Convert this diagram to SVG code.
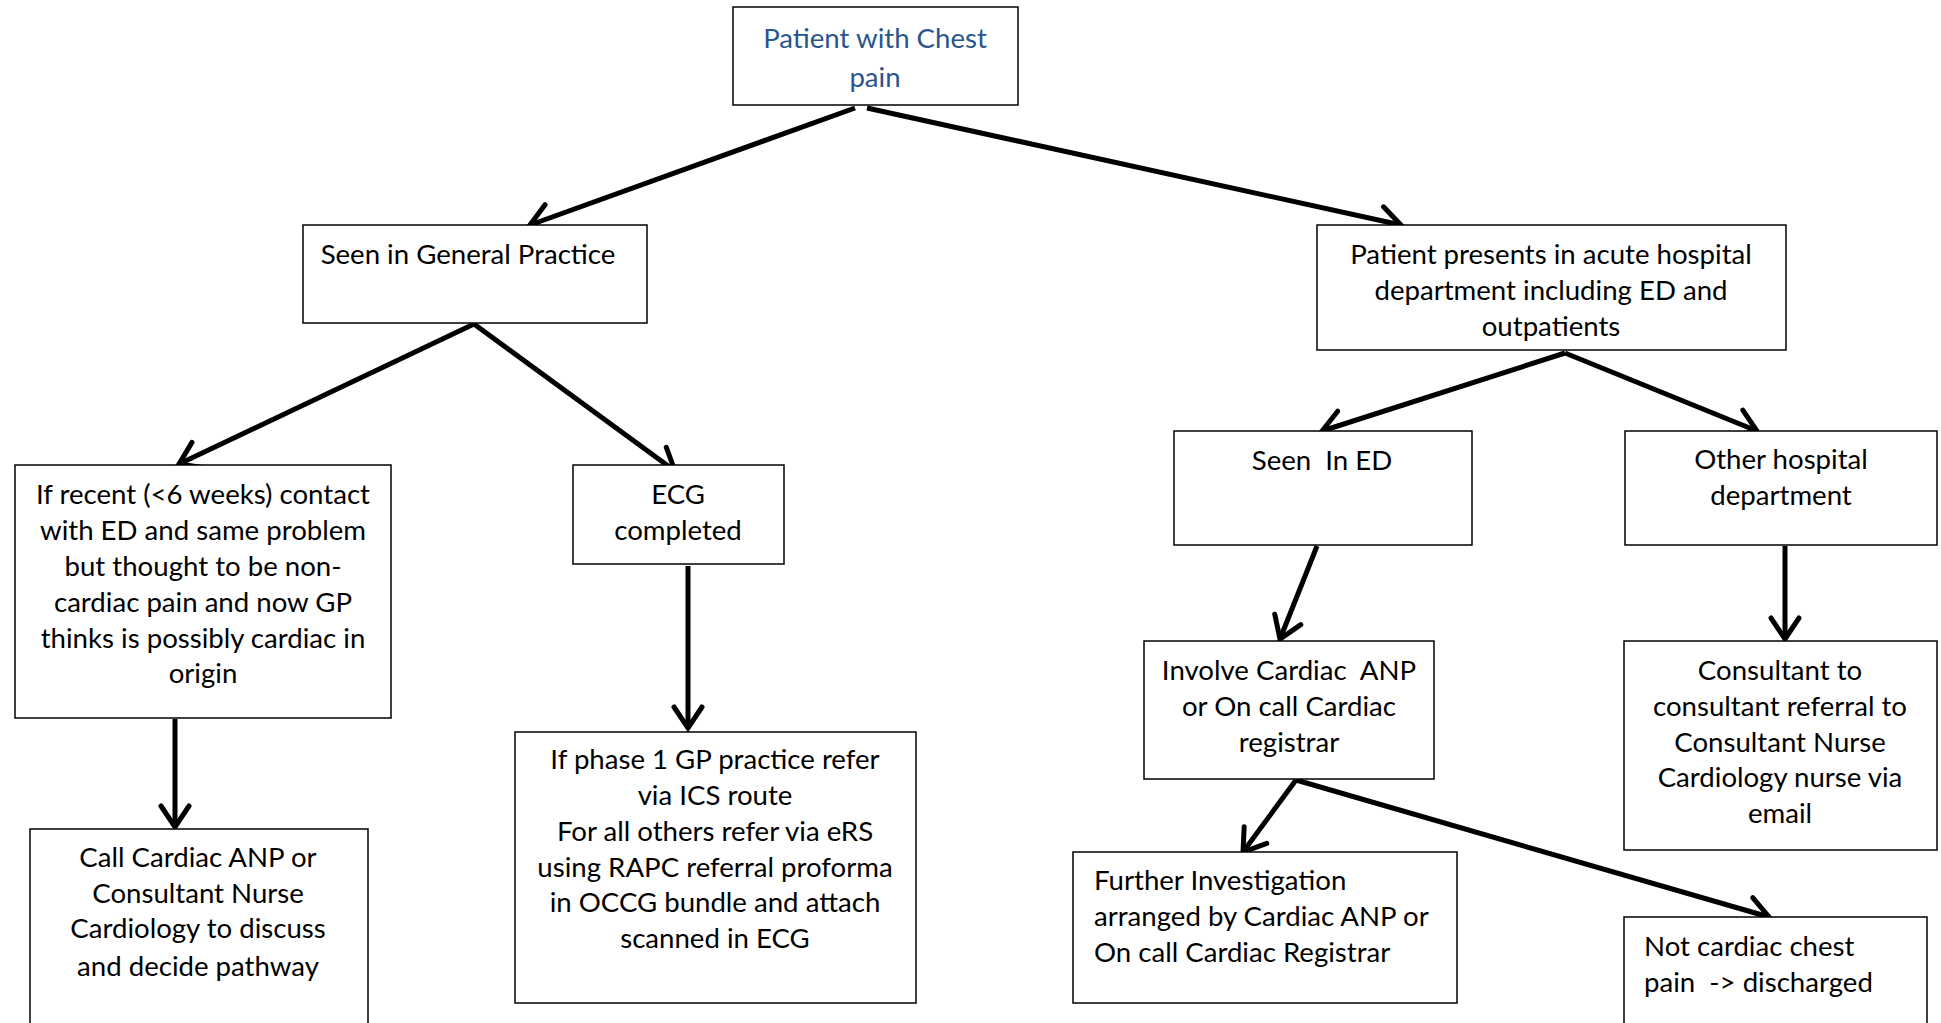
<svg xmlns="http://www.w3.org/2000/svg" width="1941" height="1023" viewBox="0 0 1941 1023">
<style>
.box{fill:#fff;stroke:#000;stroke-width:1.5}
.t{font-family:Lato,"Open Sans","Liberation Sans",sans-serif;font-size:27.6px;fill:#000;text-anchor:middle;white-space:pre}
.tl{text-anchor:start}
.blue{fill:#2A558C}
.c{stroke:#000;stroke-width:5;fill:none;marker-end:url(#ah)}
</style>
<defs>
<marker id="ah" markerUnits="userSpaceOnUse" markerWidth="50" markerHeight="50" viewBox="-35 -25 50 50" refX="0" refY="0" orient="auto">
<path d="M-21,-14 L0,0 L-21,14" fill="none" stroke="#000" stroke-width="5" stroke-linecap="round" stroke-linejoin="miter"/>
</marker>
</defs>
<g id="connectors">
<line class="c" x1="855" y1="108" x2="530" y2="225"/>
<line class="c" x1="867" y1="108" x2="1401" y2="225"/>
<line class="c" x1="474" y1="324" x2="179" y2="464"/>
<line class="c" x1="474" y1="324" x2="675" y2="471"/>
<line class="c" x1="175" y1="719" x2="175" y2="827"/>
<line class="c" x1="688" y1="566" x2="688" y2="728"/>
<line class="c" x1="1565" y1="353" x2="1322" y2="431"/>
<line class="c" x1="1565" y1="353" x2="1757" y2="431"/>
<line class="c" x1="1317" y1="546" x2="1280" y2="639"/>
<line class="c" x1="1785" y1="546" x2="1785" y2="639"/>
<line class="c" x1="1296" y1="780" x2="1243" y2="852"/>
<line class="c" x1="1296" y1="780" x2="1769" y2="917"/>
</g>
<g id="n-start">
<rect class="box" x="733" y="7" width="285" height="98"/>
<text class="t blue" x="875" y="48">Patient with Chest</text>
<text class="t blue" x="875" y="87">pain</text>
</g>
<g id="n-gp">
<rect class="box" x="303" y="225" width="344" height="98"/>
<text class="t" x="468" y="264">Seen in General Practice</text>
</g>
<g id="n-hospital">
<rect class="box" x="1317" y="225" width="469" height="125"/>
<text class="t" x="1551" y="264">Patient presents in acute hospital</text>
<text class="t" x="1551" y="300">department including ED and</text>
<text class="t" x="1551" y="336">outpatients</text>
</g>
<g id="n-recent">
<rect class="box" x="15" y="465" width="376" height="253"/>
<text class="t" x="203" y="504">If recent (&lt;6 weeks) contact</text>
<text class="t" x="203" y="540">with ED and same problem</text>
<text class="t" x="203" y="576">but thought to be non-</text>
<text class="t" x="203" y="612">cardiac pain and now GP</text>
<text class="t" x="203" y="648">thinks is possibly cardiac in</text>
<text class="t" x="203" y="683">origin</text>
</g>
<g id="n-ecg">
<rect class="box" x="573" y="465" width="211" height="99"/>
<text class="t" x="678" y="504">ECG</text>
<text class="t" x="678" y="540">completed</text>
</g>
<g id="n-call">
<rect class="box" x="30" y="829" width="338" height="210"/>
<text class="t" x="198" y="867">Call Cardiac ANP or</text>
<text class="t" x="198" y="903">Consultant Nurse</text>
<text class="t" x="198" y="938">Cardiology to discuss</text>
<text class="t" x="198" y="976">and decide pathway</text>
</g>
<g id="n-refer">
<rect class="box" x="515" y="732" width="401" height="271"/>
<text class="t" x="715" y="769">If phase 1 GP practice refer</text>
<text class="t" x="715" y="805">via ICS route</text>
<text class="t" x="715" y="841">For all others refer via eRS</text>
<text class="t" x="715" y="877">using RAPC referral proforma</text>
<text class="t" x="715" y="912">in OCCG bundle and attach</text>
<text class="t" x="715" y="948">scanned in ECG</text>
</g>
<g id="n-ed">
<rect class="box" x="1174" y="431" width="298" height="114"/>
<text class="t" x="1322" y="470">Seen  In ED</text>
</g>
<g id="n-other">
<rect class="box" x="1625" y="431" width="312" height="114"/>
<text class="t" x="1781" y="469">Other hospital</text>
<text class="t" x="1781" y="505">department</text>
</g>
<g id="n-involve">
<rect class="box" x="1144" y="641" width="290" height="138"/>
<text class="t" x="1289" y="680">Involve Cardiac  ANP</text>
<text class="t" x="1289" y="716">or On call Cardiac</text>
<text class="t" x="1289" y="752">registrar</text>
</g>
<g id="n-consultant">
<rect class="box" x="1624" y="641" width="313" height="209"/>
<text class="t" x="1780" y="680">Consultant to</text>
<text class="t" x="1780" y="716">consultant referral to</text>
<text class="t" x="1780" y="752">Consultant Nurse</text>
<text class="t" x="1780" y="787">Cardiology nurse via</text>
<text class="t" x="1780" y="823">email</text>
</g>
<g id="n-further">
<rect class="box" x="1073" y="852" width="384" height="151"/>
<text class="t tl" x="1094" y="890">Further Investigation</text>
<text class="t tl" x="1094" y="926">arranged by Cardiac ANP or</text>
<text class="t tl" x="1094" y="962">On call Cardiac Registrar</text>
</g>
<g id="n-notcardiac">
<rect class="box" x="1624" y="917" width="303" height="120"/>
<text class="t tl" x="1644" y="956">Not cardiac chest</text>
<text class="t tl" x="1644" y="992">pain  -&gt; discharged</text>
</g>
</svg>
